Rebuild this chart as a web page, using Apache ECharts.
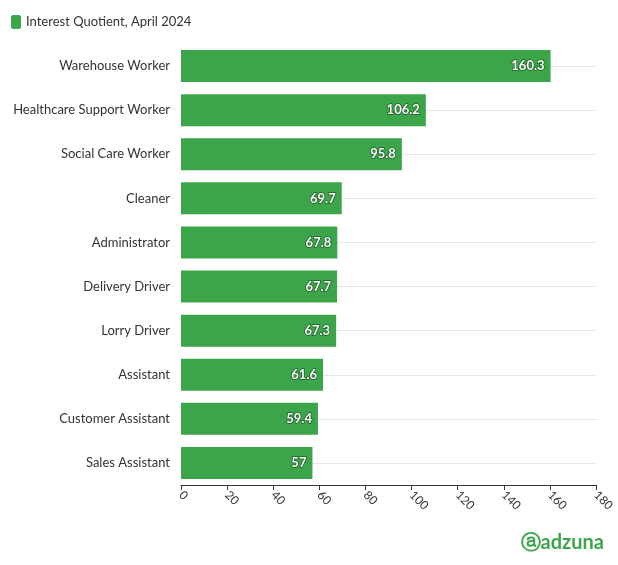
<!DOCTYPE html>
<html>
<head>
<meta charset="utf-8">
<script src="https://cdn.jsdelivr.net/npm/echarts@6/dist/echarts.min.js"></script>
<style>html,body{margin:0;padding:0;background:#fff}</style>
</head>
<body>
<div id="chart" style="width:618px;height:565px"></div>
<script>
// 职业名称与兴趣指数
const categories = ['Warehouse Worker', 'Healthcare Support Worker', 'Social Care Worker', 'Cleaner',
  'Administrator', 'Delivery Driver', 'Lorry Driver', 'Assistant', 'Customer Assistant', 'Sales Assistant']
const values = [160.3, 106.2, 95.8, 69.7, 67.8, 67.7, 67.3, 61.6, 59.4, 57]
const xTicks = [0, 20, 40, 60, 80, 100, 120, 140, 160, 180]

const font = 'Lato, "Open Sans", sans-serif'
const myChart = echarts.init(document.getElementById('chart'))

// 辅助轴：半格刻度，奇数位正好落在每个类别中心
const halfSteps = Array.from({ length: categories.length * 2 + 1 }, (_, i) => String(i))

const option = {
  animation: false,
  textStyle: { fontFamily: font },
  legend: {
    left: 6, top: 10,
    itemWidth: 10, itemHeight: 14,
    icon: 'roundRect',
    textStyle: { color: '#333', fontSize: 13, fontFamily: font },
    data: ['Interest Quotient, April 2024']
  },
  grid: { left: 181, right: 22, top: 44, bottom: 80 },
  xAxis: {
    type: 'value', min: 0, max: 180, interval: 20,
    axisLine: { show: true, lineStyle: { color: '#333' } },
    axisTick: { show: true, length: 5, lineStyle: { color: '#333' } },
    axisLabel: { rotate: -45, color: '#333', fontSize: 12, margin: 8,
      formatter: v => xTicks.includes(v) ? v : '' },
    splitLine: { show: false }
  },
  yAxis: [{
    type: 'category', inverse: true, data: categories,
    axisLine: { show: false }, axisTick: { show: false },
    axisLabel: { color: '#333', fontSize: 13, margin: 11 }
  }, {
    type: 'category', inverse: true, data: halfSteps, boundaryGap: false, position: 'left',
    axisLine: { show: false }, axisTick: { show: false }, axisLabel: { show: false },
    splitLine: { show: true, interval: i => i % 2 === 1, lineStyle: { color: '#e6e6e6' } }
  }],
  series: [{
    name: 'Interest Quotient, April 2024',
    type: 'bar', data: values, barWidth: 32,
    itemStyle: { color: '#3ca54a' },
    label: { show: true, position: 'insideRight', color: '#fff', fontWeight: 'bold',
      fontSize: 13, distance: 6, textBorderColor: '#1d5a25', textBorderWidth: 1.5 }
  }],
  graphic: [{
    type: 'text', right: 14, bottom: 12,
    style: { text: 'ⓐadzuna', fill: '#3ca54a', fontSize: 20, fontWeight: 'bold', fontFamily: font }
  }]
}
myChart.setOption(option)
</script>
</body>
</html>
